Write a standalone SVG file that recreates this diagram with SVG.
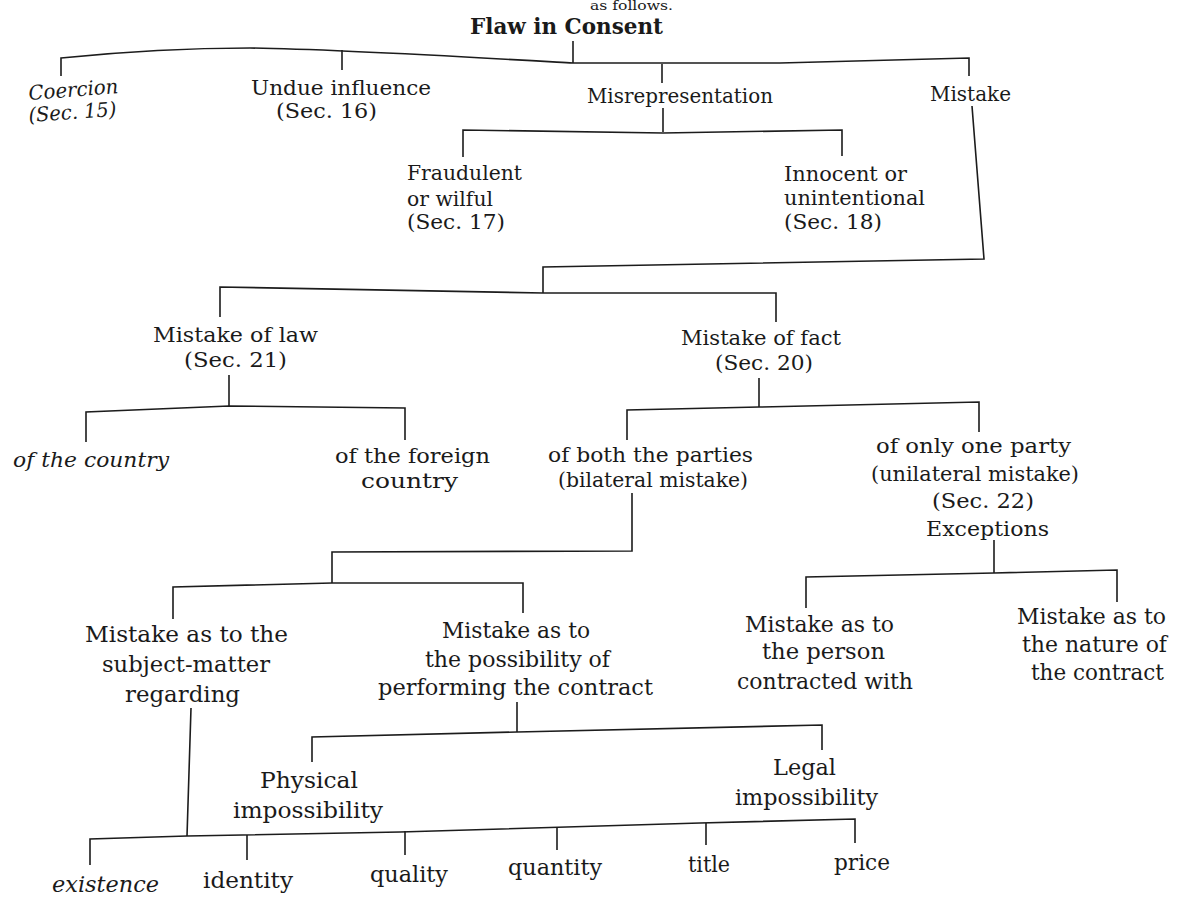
<svg xmlns="http://www.w3.org/2000/svg" width="1184" height="898" viewBox="0 0 1184 898">
<style>
  text { font-family: "DejaVu Serif", "Liberation Serif", serif; fill: #1a1a1a; }
  .xs { font-size: 12px; }
  .s { font-size: 20px; }
  .m { font-size: 21px; }
  .l { font-size: 22px; }
  .b { font-size: 22px; font-weight: bold; }
  .i { font-style: italic; }
  .c { fill: none; stroke: #1c1c1c; stroke-width: 1.6; stroke-linejoin: miter; stroke-linecap: butt; }
</style>
<rect x="0" y="0" width="1184" height="898" fill="#ffffff"/>

<g id="connectors">
  <path class="c" d="M61,76 L61,58 C130,51 190,48 250,48 C330,49 450,56 573,63 L780,63 L969,58 L969,76"/>
  <path class="c" d="M342,50 V70"/>
  <path class="c" d="M573,41 V63"/>
  <path class="c" d="M662,64 V83"/>
  <path class="c" d="M972,106 L984,259 L543,267 L543,293"/>
  <path class="c" d="M663,108 V132"/>
  <path class="c" d="M463,157 V130 L663,133 L842,130 V156"/>
  <path class="c" d="M220,317 V287 L543,293 L776,293 V322"/>
  <path class="c" d="M229,375 V406"/>
  <path class="c" d="M86,442 V412 L229,406 L405,408 V440"/>
  <path class="c" d="M759,378 V407"/>
  <path class="c" d="M627,440 V410 L759,407 L979,402 V432"/>
  <path class="c" d="M632,493 V551 L332,552 V583"/>
  <path class="c" d="M173,619 V587 L332,583 L523,583 V613"/>
  <path class="c" d="M994,540 V573"/>
  <path class="c" d="M806,608 V577 L994,573 L1117,570 V602"/>
  <path class="c" d="M517,702 V732"/>
  <path class="c" d="M312,762 V737 L517,732 L822,725 V750"/>
  <path class="c" d="M191,708 L187,836"/>
  <path class="c" d="M90,865 V839 L187,836 L400,832 L700,823 L855,819 V843"/>
  <path class="c" d="M247,835 V860"/>
  <path class="c" d="M405,831 V855"/>
  <path class="c" d="M557,827 V850"/>
  <path class="c" d="M706,823 V845"/>
</g>

<g id="header">
  <text class="xs" x="590" y="10" textLength="83" lengthAdjust="spacingAndGlyphs">as follows.</text>
</g>

<g id="flaw-in-consent">
  <text class="b" x="470" y="34" textLength="193" lengthAdjust="spacingAndGlyphs">Flaw in Consent</text>
</g>

<g id="coercion">
  <text class="s i" x="29" y="100" textLength="90" lengthAdjust="spacingAndGlyphs" transform="rotate(-4.5 29 100)">Coercion</text>
  <text class="s i" x="29" y="122" textLength="88" lengthAdjust="spacingAndGlyphs" transform="rotate(-4 29 122)">(Sec. 15)</text>
</g>

<g id="undue-influence">
  <text class="s" x="251" y="95" textLength="180" lengthAdjust="spacingAndGlyphs">Undue influence</text>
  <text class="s" x="276" y="118" textLength="101" lengthAdjust="spacingAndGlyphs">(Sec. 16)</text>
</g>

<g id="misrepresentation">
  <text class="s" x="587" y="103" textLength="186" lengthAdjust="spacingAndGlyphs">Misrepresentation</text>
</g>

<g id="mistake">
  <text class="s" x="930" y="101" textLength="81" lengthAdjust="spacingAndGlyphs">Mistake</text>
</g>

<g id="fraudulent">
  <text class="s" x="407" y="180" textLength="115" lengthAdjust="spacingAndGlyphs">Fraudulent</text>
  <text class="s" x="407" y="206" textLength="86" lengthAdjust="spacingAndGlyphs">or wilful</text>
  <text class="s" x="407" y="229" textLength="98" lengthAdjust="spacingAndGlyphs">(Sec. 17)</text>
</g>

<g id="innocent">
  <text class="s" x="784" y="181" textLength="123" lengthAdjust="spacingAndGlyphs">Innocent or</text>
  <text class="s" x="784" y="205" textLength="141" lengthAdjust="spacingAndGlyphs">unintentional</text>
  <text class="s" x="784" y="229" textLength="98" lengthAdjust="spacingAndGlyphs">(Sec. 18)</text>
</g>

<g id="mistake-of-law">
  <text class="m" x="153" y="342" textLength="165" lengthAdjust="spacingAndGlyphs">Mistake of law</text>
  <text class="m" x="184" y="367" textLength="103" lengthAdjust="spacingAndGlyphs">(Sec. 21)</text>
</g>

<g id="mistake-of-fact">
  <text class="m" x="681" y="345" textLength="160" lengthAdjust="spacingAndGlyphs">Mistake of fact</text>
  <text class="m" x="715" y="370" textLength="98" lengthAdjust="spacingAndGlyphs">(Sec. 20)</text>
</g>

<g id="of-the-country">
  <text class="m i" x="13" y="467" textLength="156" lengthAdjust="spacingAndGlyphs">of the country</text>
</g>

<g id="of-the-foreign-country">
  <text class="m" x="335" y="463" textLength="155" lengthAdjust="spacingAndGlyphs">of the foreign</text>
  <text class="m" x="361" y="488" textLength="97" lengthAdjust="spacingAndGlyphs">country</text>
</g>

<g id="bilateral">
  <text class="m" x="548" y="462" textLength="205" lengthAdjust="spacingAndGlyphs">of both the parties</text>
  <text class="m" x="558" y="487" textLength="190" lengthAdjust="spacingAndGlyphs">(bilateral mistake)</text>
</g>

<g id="unilateral">
  <text class="m" x="876" y="453" textLength="195" lengthAdjust="spacingAndGlyphs">of only one party</text>
  <text class="m" x="871" y="481" textLength="208" lengthAdjust="spacingAndGlyphs">(unilateral mistake)</text>
  <text class="m" x="932" y="508" textLength="102" lengthAdjust="spacingAndGlyphs">(Sec. 22)</text>
  <text class="m" x="926" y="536" textLength="123" lengthAdjust="spacingAndGlyphs">Exceptions</text>
</g>

<g id="subject-matter">
  <text class="l" x="85" y="642" textLength="203" lengthAdjust="spacingAndGlyphs">Mistake as to the</text>
  <text class="l" x="102" y="672" textLength="168" lengthAdjust="spacingAndGlyphs">subject-matter</text>
  <text class="l" x="125" y="702" textLength="115" lengthAdjust="spacingAndGlyphs">regarding</text>
</g>

<g id="possibility">
  <text class="l" x="442" y="638" textLength="148" lengthAdjust="spacingAndGlyphs">Mistake as to</text>
  <text class="l" x="425" y="667" textLength="185" lengthAdjust="spacingAndGlyphs">the possibility of</text>
  <text class="l" x="378" y="695" textLength="275" lengthAdjust="spacingAndGlyphs">performing the contract</text>
</g>

<g id="person">
  <text class="l" x="745" y="632" textLength="149" lengthAdjust="spacingAndGlyphs">Mistake as to</text>
  <text class="l" x="762" y="659" textLength="123" lengthAdjust="spacingAndGlyphs">the person</text>
  <text class="l" x="737" y="689" textLength="176" lengthAdjust="spacingAndGlyphs">contracted with</text>
</g>

<g id="nature">
  <text class="l" x="1017" y="624" textLength="149" lengthAdjust="spacingAndGlyphs">Mistake as to</text>
  <text class="l" x="1022" y="652" textLength="145" lengthAdjust="spacingAndGlyphs">the nature of</text>
  <text class="l" x="1031" y="680" textLength="133" lengthAdjust="spacingAndGlyphs">the contract</text>
</g>

<g id="physical">
  <text class="l" x="260" y="788" textLength="98" lengthAdjust="spacingAndGlyphs">Physical</text>
  <text class="l" x="233" y="818" textLength="150" lengthAdjust="spacingAndGlyphs">impossibility</text>
</g>

<g id="legal">
  <text class="l" x="773" y="775" textLength="63" lengthAdjust="spacingAndGlyphs">Legal</text>
  <text class="l" x="735" y="805" textLength="143" lengthAdjust="spacingAndGlyphs">impossibility</text>
</g>

<g id="existence">
  <text class="l i" x="52" y="892" textLength="107" lengthAdjust="spacingAndGlyphs">existence</text>
</g>
<g id="identity">
  <text class="l" x="203" y="888" textLength="90" lengthAdjust="spacingAndGlyphs">identity</text>
</g>
<g id="quality">
  <text class="l" x="370" y="882" textLength="78" lengthAdjust="spacingAndGlyphs">quality</text>
</g>
<g id="quantity">
  <text class="l" x="508" y="875" textLength="94" lengthAdjust="spacingAndGlyphs">quantity</text>
</g>
<g id="title">
  <text class="l" x="688" y="872" textLength="42" lengthAdjust="spacingAndGlyphs">title</text>
</g>
<g id="price">
  <text class="l" x="834" y="870" textLength="56" lengthAdjust="spacingAndGlyphs">price</text>
</g>
</svg>
